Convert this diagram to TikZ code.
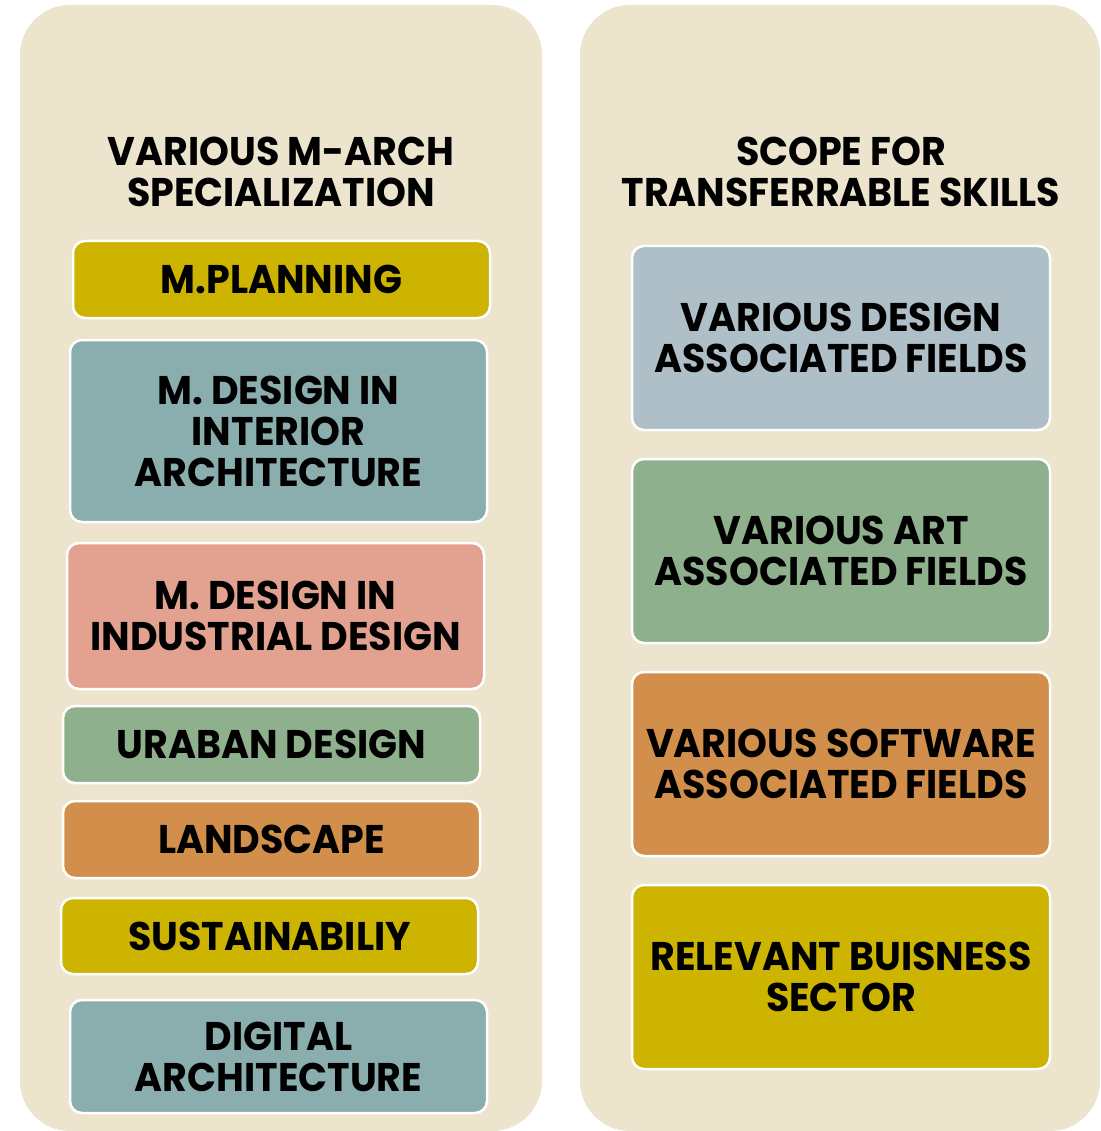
\documentclass[tikz,border=0pt]{standalone}
\usepackage{fontspec}
\setmainfont{Poppins}[FakeStretch=0.95]
\usetikzlibrary{positioning}
\definecolor{panelbg}{HTML}{ECE4CC}
\definecolor{mustard}{HTML}{CCB400}
\definecolor{teal}{HTML}{8AADAE}
\definecolor{salmon}{HTML}{E3A190}
\definecolor{sage}{HTML}{8FB08C}
\definecolor{ochre}{HTML}{D18F4B}
\definecolor{mist}{HTML}{AEBFC7}
\tikzset{
  panel/.style={fill=panelbg, rounded corners=50pt},
  heading/.style={align=center, font=\bfseries\fontsize{40}{41}\selectfont},
  item/.style={draw=white, line width=2.5pt, rounded corners=12pt, align=center,
    inner sep=0pt, font=\bfseries\fontsize{40}{41}\selectfont},
  spec/.style={item, minimum width=417pt},
  scope/.style={item, minimum width=418pt, minimum height=184pt}
}
\begin{document}
\begin{tikzpicture}[x=1pt,y=-1pt]
  \useasboundingbox (0,0) rectangle (1100,1131);
  \fill[panel] (20,5) rectangle (542,1131);
  \fill[panel] (580,5) rectangle (1100,1131);
  % left column
  \node[heading] (lhead) at (281,172) {VARIOUS M-ARCH\\SPECIALIZATION};
  \node[spec, fill=mustard, minimum height=77pt] (plan) at (281.5,279.5) {M.PLANNING};
  \node[spec, fill=teal, minimum height=182pt] (interior) at (278.5,431) {M. DESIGN IN\\INTERIOR\\ARCHITECTURE};
  \node[spec, fill=salmon, minimum height=146pt] (industrial) at (275.5,616) {M. DESIGN IN\\INDUSTRIAL DESIGN};
  \node[spec, fill=sage, minimum height=77pt] (urban) at (271.5,744.5) {URABAN DESIGN};
  \node[spec, fill=ochre, minimum height=77pt] (landscape) at (271.5,839.5) {LANDSCAPE};
  \node[spec, fill=mustard, minimum height=76pt] (sustain) at (269.5,936) {SUSTAINABILIY};
  \node[spec, fill=teal, minimum height=113pt] (digital) at (278.5,1056.5) {DIGITAL\\ARCHITECTURE};
  % right column
  \node[heading] (rhead) at (841,172) {SCOPE FOR\\TRANSFERRABLE SKILLS};
  \node[scope, fill=mist] (design) at (841,338) {VARIOUS DESIGN\\ASSOCIATED FIELDS};
  \node[scope, fill=sage] (art) at (841,551) {VARIOUS ART\\ASSOCIATED FIELDS};
  \node[scope, fill=ochre] (software) at (841,764) {VARIOUS SOFTWARE\\ASSOCIATED FIELDS};
  \node[scope, fill=mustard] (business) at (841,977) {RELEVANT BUISNESS\\SECTOR};
\end{tikzpicture}
\end{document}
